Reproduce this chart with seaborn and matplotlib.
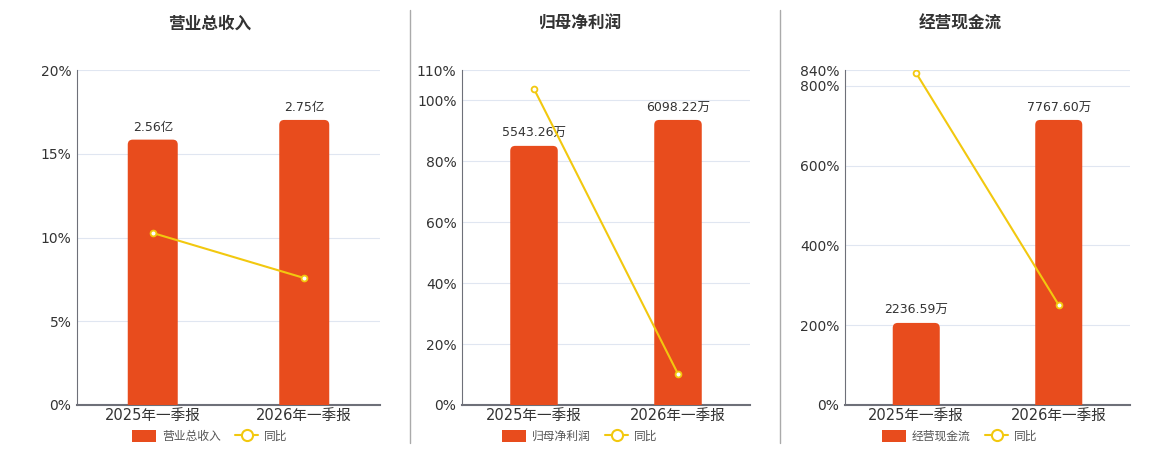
import numpy as np
import pandas as pd
import matplotlib.pyplot as plt
import seaborn as sns
from matplotlib.patches import FancyBboxPatch
from matplotlib.lines import Line2D

# data
periods = ['2025年一季报', '2026年一季报']
titles = ['营业总收入', '归母净利润', '经营现金流']
bar_vals = [[2.56, 2.75], [5543.26, 6098.22], [2236.59, 7767.60]]
bar_labels = [['2.56亿', '2.75亿'], ['5543.26万', '6098.22万'], ['2236.59万', '7767.60万']]
yoy_vals = [[10.27, 7.58], [103.8, 10.2], [832.0, 250.7]]
yticks = [[0, 5, 10, 15, 20], [0, 20, 40, 60, 80, 100, 110], [0, 200, 400, 600, 800, 840]]

bar_color = '#E84C1D'
line_color = '#F2C80F'
text_color = '#333333'
axis_color = '#6E7079'
grid_color = '#E0E6F1'

sns.set_style('white')
plt.rcParams['font.family'] = ['DejaVu Sans', 'Noto Sans CJK SC']

fig = plt.figure(figsize=(11.6, 4.5), dpi=100)

# panel rectangles in figure fractions
lefts = [77 / 1160, 462 / 1160, 845 / 1160]
widths = [303 / 1160, 288 / 1160, 285 / 1160]
centers = [210 / 1160, 580 / 1160, 960 / 1160]
bottom, height = 0.1, 0.7444

for i in range(3):
    ax = fig.add_axes([lefts[i], bottom, widths[i], height])
    ax_bar = ax.twinx()
    ax_line = ax.twinx()

    ymax = yticks[i][-1]
    # background axis: grid + ticks
    ax.set_xlim(-0.5, 1.5)
    ax.set_ylim(0, ymax)
    ax.set_yticks(yticks[i])
    ax.set_yticklabels([f'{t}%' for t in yticks[i]])
    ax.grid(axis='y', color=grid_color, linewidth=0.8)
    ax.tick_params(axis='y', length=0, labelsize=10, colors=text_color, pad=4)
    ax.set_xticks([-0.5, 0.5, 1.5])
    ax.set_xticklabels([])
    ax.tick_params(axis='x', length=5, color=axis_color, width=1)
    ax.set_xticks([0, 1], minor=True)
    ax.set_xticklabels(periods, minor=True)
    ax.tick_params(axis='x', which='minor', length=0, labelsize=10.5, colors=text_color, pad=2)
    for s in ['top', 'right']:
        ax.spines[s].set_visible(False)
    ax.spines['left'].set_color(axis_color)
    ax.spines['left'].set_linewidth(0.8)
    ax.spines['bottom'].set_color(axis_color)
    ax.spines['bottom'].set_linewidth(1.5)

    # bars on a hidden axis
    df = pd.DataFrame({'period': periods, 'value': bar_vals[i]})
    sns.barplot(data=df, x='period', y='value', ax=ax_bar, color=bar_color,
                width=0.33, saturation=1, edgecolor='none')
    ax_bar.set_xlim(-0.5, 1.5)
    ax_bar.set_ylim(0, max(bar_vals[i]) / 0.851)
    ax_bar.axis('off')

    # swap each bar for one with rounded top corners (bottom corners fall below the axis)
    fig.canvas.draw()
    bbox = ax_bar.get_window_extent()
    xpp = 2.0 / bbox.width
    ypp = ax_bar.get_ylim()[1] / bbox.height
    r_px = 5
    for p, lab in zip(list(ax_bar.patches), bar_labels[i]):
        x, y, w, h = p.get_x(), p.get_y(), p.get_width(), p.get_height()
        p.set_visible(False)
        rp = FancyBboxPatch((x, y - 10 * ypp), w, h + 10 * ypp,
                            boxstyle=f'round,pad=0,rounding_size={r_px * xpp}',
                            mutation_aspect=ypp / xpp,
                            facecolor=bar_color, edgecolor='none')
        ax_bar.add_patch(rp)
        ax_bar.annotate(lab, (x + w / 2, h), xytext=(0, 4), textcoords='offset points',
                        ha='center', va='bottom', fontsize=9, color=text_color)

    # yoy line
    ldf = pd.DataFrame({'x': [0, 1], 'yoy': yoy_vals[i]})
    sns.lineplot(data=ldf, x='x', y='yoy', ax=ax_line, color=line_color, linewidth=1.5,
                 marker='o', markersize=4.2, markerfacecolor='white',
                 markeredgecolor=line_color, markeredgewidth=1.3)
    ax_line.set_xlim(-0.5, 1.5)
    ax_line.set_ylim(0, ymax)
    ax_line.axis('off')

    fig.text(centers[i], 0.947, titles[i], ha='center', va='center',
             fontsize=12, fontweight='bold', color=text_color)

    handles = [
        FancyBboxPatch((0, 0), 1, 1, boxstyle='round,pad=0,rounding_size=0.3',
                       facecolor=bar_color, edgecolor='none'),
        Line2D([], [], color=line_color, linewidth=1.5, marker='o', markersize=8,
               markerfacecolor='white', markeredgecolor=line_color, markeredgewidth=1.5),
    ]
    fig.legend(handles, [titles[i], '同比'], loc='center', bbox_to_anchor=(centers[i], 0.031),
               ncol=2, frameon=False, fontsize=8.5, handlelength=2.0, handleheight=1.2,
               columnspacing=1.2, handletextpad=0.5, labelcolor='#555555')

# separators between panels
for xs in [410 / 1160, 780 / 1160]:
    fig.add_artist(Line2D([xs, xs], [1 - 443 / 450, 1 - 10 / 450], color='#AAAAAA', linewidth=1))

fig.savefig('out.png', dpi=100)
